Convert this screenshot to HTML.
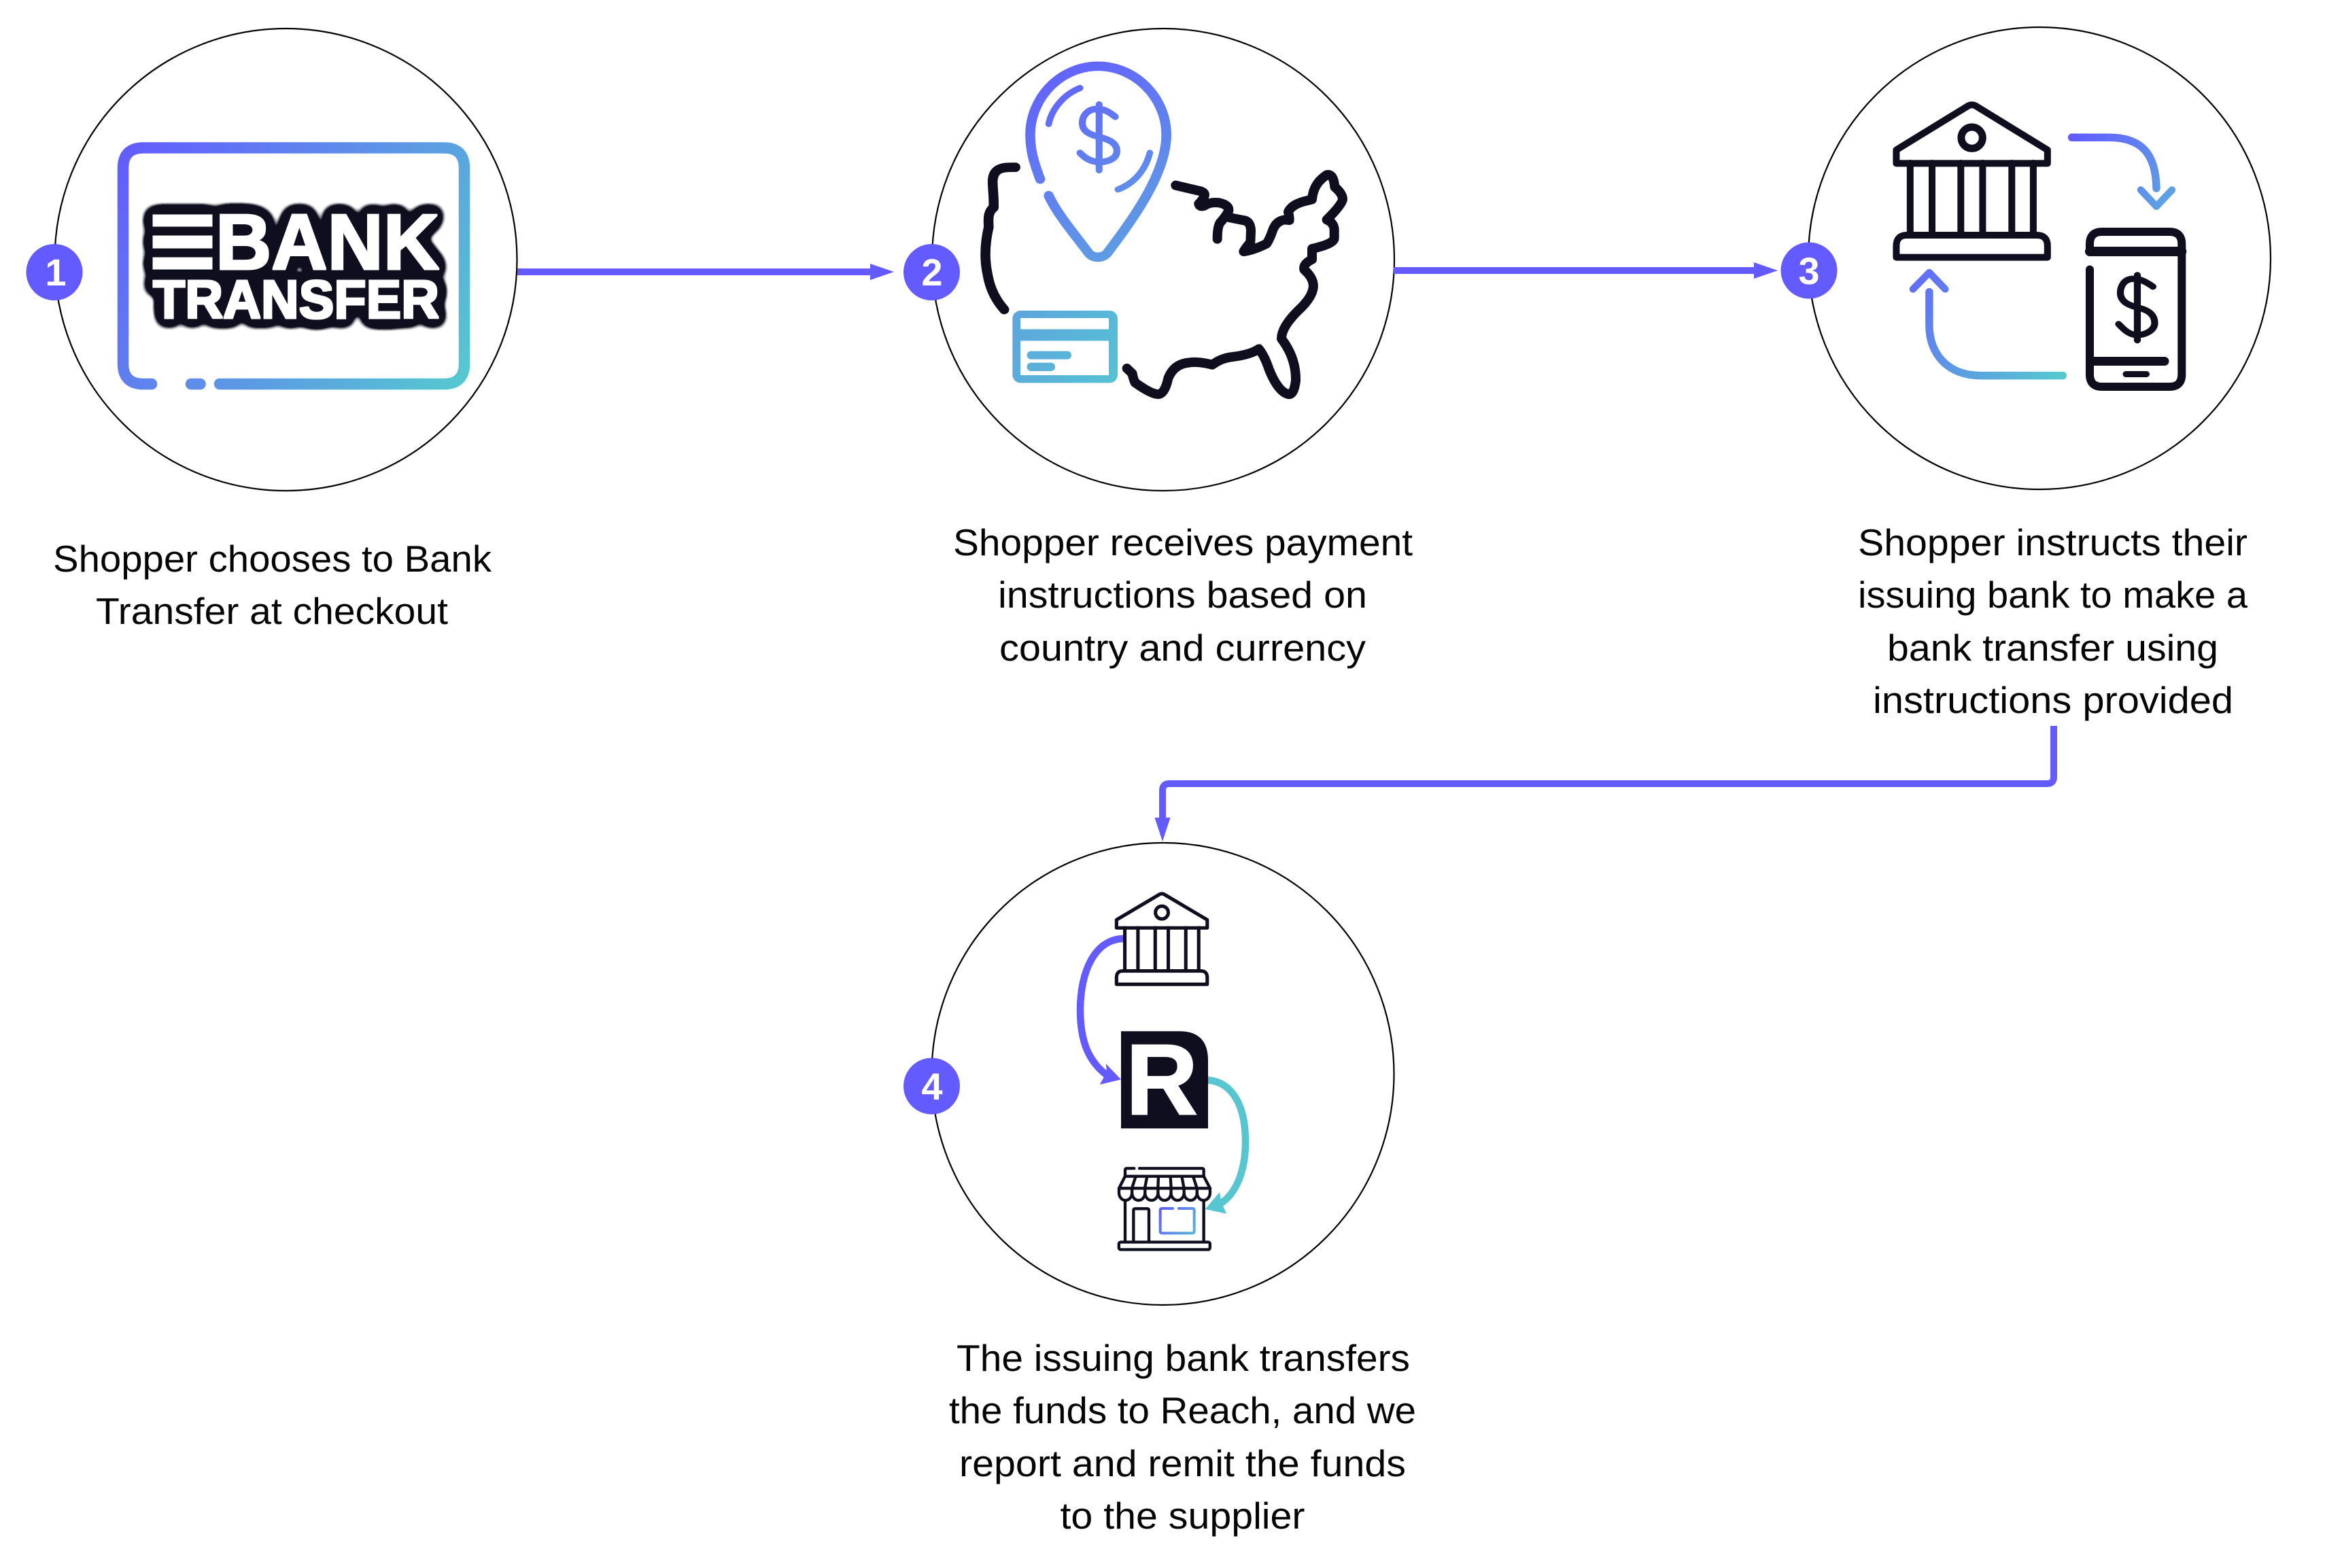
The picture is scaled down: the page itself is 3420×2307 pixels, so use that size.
<!DOCTYPE html>
<html lang="en">
<head>
<meta charset="utf-8">
<title>Bank Transfer flow</title>
<style>
html,body{margin:0;padding:0;background:#fff;overflow:hidden}
svg{display:block}
.t{font-family:"Liberation Sans",sans-serif;font-size:55px;fill:#050505}
.n{font-family:"Liberation Sans",sans-serif;font-size:56px;font-weight:700;fill:#fff;text-anchor:middle}
.c{fill:#fff;stroke:#000;stroke-width:2.2}
.l{fill:none;stroke:#635bff;stroke-width:10}
.a{fill:#635bff}
.k{fill:none;stroke:#0e0e1e;stroke-linecap:round;stroke-linejoin:round}
.r{fill:none;stroke-linecap:round;stroke-linejoin:round}
</style>
</head>
<body>
<svg xmlns="http://www.w3.org/2000/svg" width="3420" height="2307" viewBox="0 0 3420 2307">
<defs>
<linearGradient id="g1" gradientUnits="userSpaceOnUse" x1="180" y1="215" x2="685" y2="570"><stop offset="0" stop-color="#635bff"/><stop offset="1" stop-color="#56c9cf"/></linearGradient>
<linearGradient id="g2" gradientUnits="userSpaceOnUse" x1="350" y1="110" x2="780" y2="750"><stop offset="0" stop-color="#635bff"/><stop offset="1" stop-color="#5ea6df"/></linearGradient>
<linearGradient id="g2c" gradientUnits="userSpaceOnUse" x1="1489" y1="457" x2="1644" y2="563"><stop offset="0" stop-color="#5ea4de"/><stop offset="1" stop-color="#56c2d4"/></linearGradient>
<linearGradient id="g3a" gradientUnits="userSpaceOnUse" x1="3047" y1="202" x2="3195" y2="303"><stop offset="0" stop-color="#635bff"/><stop offset="1" stop-color="#5ea6df"/></linearGradient>
<linearGradient id="g3b" gradientUnits="userSpaceOnUse" x1="2838" y1="401" x2="3034" y2="552"><stop offset="0" stop-color="#6270f5"/><stop offset="1" stop-color="#56c9cf"/></linearGradient>
<linearGradient id="g4" gradientUnits="userSpaceOnUse" x1="320" y1="534" x2="470" y2="643"><stop offset="0" stop-color="#635bff"/><stop offset="1" stop-color="#58b5d8"/></linearGradient>
<filter id="bt" filterUnits="userSpaceOnUse" x="180" y="270" width="500" height="240" color-interpolation-filters="sRGB">
<feGaussianBlur in="SourceAlpha" stdDeviation="9" result="b"/>
<feComponentTransfer in="b" result="t"><feFuncA type="linear" slope="40" intercept="-0.3"/></feComponentTransfer>
<feFlood flood-color="#0e0e1e" result="f1"/>
<feComposite in="f1" in2="t" operator="in" result="dk"/>
<feMorphology in="SourceAlpha" operator="dilate" radius="1.6" result="d"/>
<feFlood flood-color="#ffffff" result="f2"/>
<feComposite in="f2" in2="d" operator="in" result="wt"/>
<feMerge><feMergeNode in="dk"/><feMergeNode in="wt"/></feMerge>
</filter>
</defs>

<!-- circles -->
<circle class="c" cx="420.5" cy="382" r="340"/>
<circle class="c" cx="1711" cy="382" r="340"/>
<circle class="c" cx="3000" cy="380" r="340"/>
<circle class="c" cx="1710.5" cy="1580" r="340"/>

<!-- connectors -->
<path class="l" d="M761,400H1282"/>
<polygon class="a" points="1280,388 1315,400 1280,412"/>
<path class="l" d="M2050,398H2582"/>
<polygon class="a" points="2580,386 2615,398 2580,410"/>
<path class="l" d="M3021,1068V1143Q3021,1153 3011,1153H1720Q1710,1153 1710,1163V1205"/>
<polygon class="a" points="1698.5,1203 1721.5,1203 1710,1238"/>

<!-- badges -->
<circle class="a" cx="80" cy="400.5" r="41.5"/>
<circle class="a" cx="1370.5" cy="400.5" r="41.5"/>
<circle class="a" cx="2661" cy="398" r="41.5"/>
<circle class="a" cx="1370.5" cy="1598" r="41.5"/>
<text class="n" x="82" y="420">1</text>
<text class="n" x="1371" y="420">2</text>
<text class="n" x="2661" y="418">3</text>
<text class="n" x="1371" y="1618">4</text>

<!-- step 1 icon -->
<path fill="none" stroke="url(#g1)" stroke-width="16.5" stroke-linecap="round" d="M223,565H211Q181,565 181,535V247.5Q181,217.5 211,217.5H653Q683,217.5 683,247.5V535Q683,565 653,565H323M281,565H294.5"/>
<g filter="url(#bt)" font-family="'Liberation Sans',sans-serif" font-weight="700">
<rect x="226" y="317" width="85" height="15"/>
<rect x="226" y="348" width="85" height="16"/>
<rect x="226" y="380" width="85" height="15"/>
<text x="317" y="396" font-size="116" textLength="329" lengthAdjust="spacingAndGlyphs">BANK</text>
<text x="225" y="468" font-size="80" textLength="421" lengthAdjust="spacingAndGlyphs">TRANSFER</text>
</g>

<!-- step 2 icon -->
<g transform="translate(1340,40) scale(0.4847,0.4591)">
<path class="r" stroke="url(#g2)" stroke-width="30" d="M392,487C372,430 362,395 362,345C362,225 455,125 568,125C680,125 775,225 775,345C775,470 670,620 600,718C590,733 580,737 568,737C555,737 545,733 535,718C490,655 445,600 418,540"/>
<path class="r" stroke="url(#g2)" stroke-width="20" d="M418,310C428,260 465,215 513,195M725,403C712,455 680,500 628,520"/>
<path class="r" stroke="url(#g2)" stroke-width="21" d="M571,248V458M620,287C600,270 585,262 565,262C535,262 520,285 520,307C520,335 545,345 572,352C600,360 625,370 625,397C625,420 600,432 572,432C550,432 530,422 513,403"/>
<path class="k" stroke-width="30" d="M317,449C290,449 248,445 248,495C248,520 252,545 251,578C235,590 234,610 236,640C225,690 222,740 232,790C240,840 258,875 283,905"/>
</g>
<g transform="translate(1700,240) scale(0.33333)">
<path class="k" stroke-width="42" d="M88,98L190,122Q220,128 215,145Q205,165 190,180Q195,195 215,188Q240,170 280,175Q325,185 322,210Q310,235 285,262Q272,280 272,335"/>
<path class="k" stroke-width="42" d="M325,240L385,252Q420,255 420,300L418,350Q400,370 388,390Q430,385 490,355Q505,330 515,300Q530,255 570,250L590,252Q590,235 585,215Q600,185 650,170L690,160Q695,90 755,52Q785,45 790,105Q825,135 825,160Q820,185 755,250Q790,265 788,300L788,330Q790,355 690,378L690,425Q650,445 655,470Q700,510 695,550Q690,590 640,640Q555,720 555,775Q620,860 618,960Q610,1025 585,1020Q540,1010 500,910Q480,850 455,820Q420,845 340,855Q290,860 250,890Q190,875 150,880Q80,885 55,950Q40,1020 10,1020Q-20,1020 -91,969Q-100,950 -103,929L-127,906"/>
</g>
<rect x="1489.3" y="457" width="154.7" height="106.4" rx="12" fill="url(#g2c)"/>
<rect x="1501" y="468" width="130" height="16.4" fill="#fff"/>
<rect x="1501" y="501.4" width="130" height="50.6" fill="#fff"/>
<rect x="1510.6" y="516.6" width="65.4" height="12" rx="6" fill="url(#g2c)"/>
<rect x="1510.6" y="533.6" width="41.4" height="12.4" rx="6" fill="url(#g2c)"/>

<!-- step 3 icon -->
<g class="k" stroke-width="10">
<path d="M2789.4,220.6L2895.5,155.5Q2900.6,153 2905.7,155.5L3011.8,220.6V240.4H2789.4Z"/>
<circle cx="2900.6" cy="202.7" r="15.7" stroke-width="11"/>
<path d="M2809.8,240V346M2842,240V346M2884.3,240V346M2916.4,240V346M2959.3,240V346M2990.9,240V346"/>
<path d="M2789.4,378.6V362Q2789.4,346 2805,346H2996Q3011.8,346 3011.8,362V378.6Z"/>
</g>
<path class="r" stroke="url(#g3a)" stroke-width="11.5" d="M3047.6,202.3H3102C3150.6,202.3 3171,226.6 3172,277"/>
<path class="r" stroke="url(#g3a)" stroke-width="10.5" d="M3149,279.4L3172,303.7L3195,279.4"/>
<path class="r" stroke="url(#g3b)" stroke-width="11.5" d="M3034.3,552.6H2913.4C2864.9,552.6 2837.9,520.5 2837.9,479V429.6"/>
<path class="r" stroke="url(#g3b)" stroke-width="10.5" d="M2813.9,425.4L2837.9,401L2861.3,425.4"/>
<g class="k" stroke-width="12">
<path d="M3074,370V359Q3074,341 3092,341H3191Q3209.3,341 3209.3,359V551Q3209.3,569 3191,569H3092Q3074,569 3074,551V396.5"/>
<path d="M3074,370H3209.3" stroke-width="14"/>
<path d="M3080,531.5H3184" stroke-width="13"/>
<path d="M3127,550.5H3157.5" stroke-width="9"/>
</g>
<g transform="translate(2620,20) scale(0.5102,0.4591)">
<path class="k" stroke-width="20" d="M1027,838V1047M1072,875C1050,858 1035,850 1015,850C985,850 978,880 978,895C978,925 1005,935 1027,942C1060,950 1077,965 1077,992C1077,1015 1050,1030 1027,1030C1005,1030 990,1015 973,995"/>
</g>

<!-- step 4 icon -->
<path fill="none" stroke="#635bff" stroke-width="10.5" d="M1654,1381C1610,1381 1589,1430 1589,1486C1589,1530 1600,1560 1627,1581"/>
<polygon class="a" points="1649,1588.3 1626.7,1565 1628,1577 1617.7,1595.7"/>
<path fill="none" stroke="#58c6d0" stroke-width="10.5" d="M1776,1589C1815,1592 1832,1630 1832,1680C1832,1720 1820,1755 1795,1771"/>
<polygon fill="#58c6d0" points="1772.7,1779 1794,1754 1796,1767 1804,1785.7"/>
<g class="k" stroke-width="8.5" transform="translate(-31.3,1221) scale(0.6)">
<path d="M2789.4,220.6L2895.5,157.7Q2900.6,155.4 2905.7,157.7L3011.8,220.6V240.4H2789.4Z"/>
<circle cx="2900.6" cy="202.7" r="15.7"/>
<path d="M2809.8,240V346M2842,240V346M2884.3,240V346M2916.4,240V346M2959.3,240V346M2990.9,240V346"/>
<path d="M2789.4,378.6V362Q2789.4,346 2805,346H2996Q3011.8,346 3011.8,362V378.6Z"/>
</g>
<path fill="#0e0e1e" d="M1649,1517.3H1735Q1777,1517.3 1777,1560V1660.3H1649Z"/>
<text x="1656" y="1639.4" font-family="'Liberation Sans',sans-serif" font-weight="700" font-size="148" fill="#fff" stroke="#fff" stroke-width="2" textLength="106" lengthAdjust="spacingAndGlyphs">R</text>
<g transform="translate(1600,1600) scale(0.33333)">
<g class="k" stroke-width="13">
<path d="M205,357H172Q165,357 165,365V392M228,357H505Q512,357 512,365V392M165,392H512"/>
<path d="M165,392L138,445H540L512,392"/>
<path d="M212,392L195,445M262,392L252,445M312,392L310,445M365,392L368,445M415,392L425,445M465,392L482,445"/>
<path d="M138,445V465A28.7,33 0 0 0 195.4,465A28.7,33 0 0 0 252.8,465A28.7,33 0 0 0 310.2,465A28.7,33 0 0 0 367.6,465A28.7,33 0 0 0 425,465A28.7,33 0 0 0 482.4,465A28.7,33 0 0 0 539.8,465V445"/>
<path d="M195.4,445V465M252.8,445V465M310.2,445V465M367.6,445V465M425,445V465M482.4,445V465"/>
<path d="M165,500V682M512,500V682"/>
<path d="M202,682V542Q202,535 210,535H262Q270,535 270,542V682"/>
<rect x="137.5" y="682.5" width="402" height="33" rx="8"/>
</g>
<path class="r" stroke="url(#g4)" stroke-width="12" d="M375,534H328Q320,534 320,542V635Q320,643 328,643H462Q470,643 470,635V542Q470,534 462,534H402"/>
</g>

<!-- labels -->
<text class="t" x="78" y="841" textLength="645" lengthAdjust="spacingAndGlyphs">Shopper chooses to Bank</text>
<text class="t" x="141" y="918" textLength="518" lengthAdjust="spacingAndGlyphs">Transfer at checkout</text>

<text class="t" x="1402" y="817" textLength="676" lengthAdjust="spacingAndGlyphs">Shopper receives payment</text>
<text class="t" x="1468" y="894" textLength="543" lengthAdjust="spacingAndGlyphs">instructions based on</text>
<text class="t" x="1470" y="972" textLength="539" lengthAdjust="spacingAndGlyphs">country and currency</text>

<text class="t" x="2733" y="817" textLength="573" lengthAdjust="spacingAndGlyphs">Shopper instructs their</text>
<text class="t" x="2733" y="894" textLength="573" lengthAdjust="spacingAndGlyphs">issuing bank to make a</text>
<text class="t" x="2776" y="972" textLength="487" lengthAdjust="spacingAndGlyphs">bank transfer using</text>
<text class="t" x="2755" y="1049" textLength="530" lengthAdjust="spacingAndGlyphs">instructions provided</text>

<text class="t" x="1407" y="2017" textLength="667" lengthAdjust="spacingAndGlyphs">The issuing bank transfers</text>
<text class="t" x="1396" y="2094" textLength="687" lengthAdjust="spacingAndGlyphs">the funds to Reach, and we</text>
<text class="t" x="1411" y="2172" textLength="657" lengthAdjust="spacingAndGlyphs">report and remit the funds</text>
<text class="t" x="1559.5" y="2249" textLength="360" lengthAdjust="spacingAndGlyphs">to the supplier</text>
</svg>
</body>
</html>
